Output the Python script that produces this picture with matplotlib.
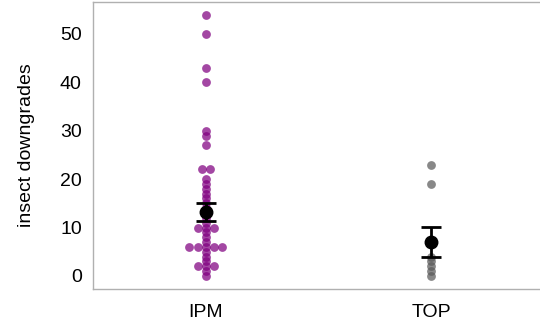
import numpy as np
import matplotlib
matplotlib.use("Agg")
import matplotlib.pyplot as plt

# insect downgrades per field
ipm_values = [54, 50, 43, 40, 30, 29, 27, 22, 22, 20, 19, 18, 17, 16,
              15, 14, 13, 12, 11, 10, 10, 10, 9, 8, 7, 6, 6, 6, 6, 6,
              5, 4, 3, 2, 2, 2, 1, 0]
top_values = [23, 19, 4, 3, 2, 1, 0]

groups = ["IPM", "TOP"]
means = [13.3, 7.0]
sems = [1.85, 3.1]
colors = ["#800080", "#5a5a5a"]


def beeswarm_offsets(values, step=0.036):
    # tied values are spread sideways, everything else stays in the column
    values = np.asarray(values)
    offsets = np.zeros(len(values))
    for v in np.unique(values):
        idx = np.where(values == v)[0]
        k = len(idx)
        offsets[idx] = (np.arange(k) - (k - 1) / 2) * step
    return offsets


plt.rcParams["font.family"] = ["Liberation Sans", "DejaVu Sans"]

fig = plt.figure(figsize=(5.4, 3.26), dpi=100)
ax = fig.add_axes([0.172, 0.1135, 0.836, 0.8804])

for i, (vals, c) in enumerate(zip([ipm_values, top_values], colors)):
    xs = i + beeswarm_offsets(vals)
    ax.scatter(xs, vals, s=40, color=c, alpha=0.72, linewidths=0, zorder=3)

ax.errorbar(range(len(groups)), means, yerr=sems, fmt="o", color="black",
            markersize=9, capsize=7, elinewidth=2, capthick=2, zorder=5)

ax.set_xticks(range(len(groups)))
ax.set_xticklabels(groups)
ax.set_xlim(-0.5, 1.5)
ax.set_ylim(-2.7, 56.6)
ax.set_yticks([0, 10, 20, 30, 40, 50])
ax.set_ylabel("insect downgrades", fontsize=14, labelpad=18, color="black")
ax.tick_params(axis="both", labelsize=14, length=0, labelcolor="black")
ax.tick_params(axis="x", pad=11)
ax.tick_params(axis="y", pad=8)
for s in ax.spines.values():
    s.set_color("#b0b0b0")
    s.set_linewidth(1)

fig.savefig("out.png", dpi=100)
